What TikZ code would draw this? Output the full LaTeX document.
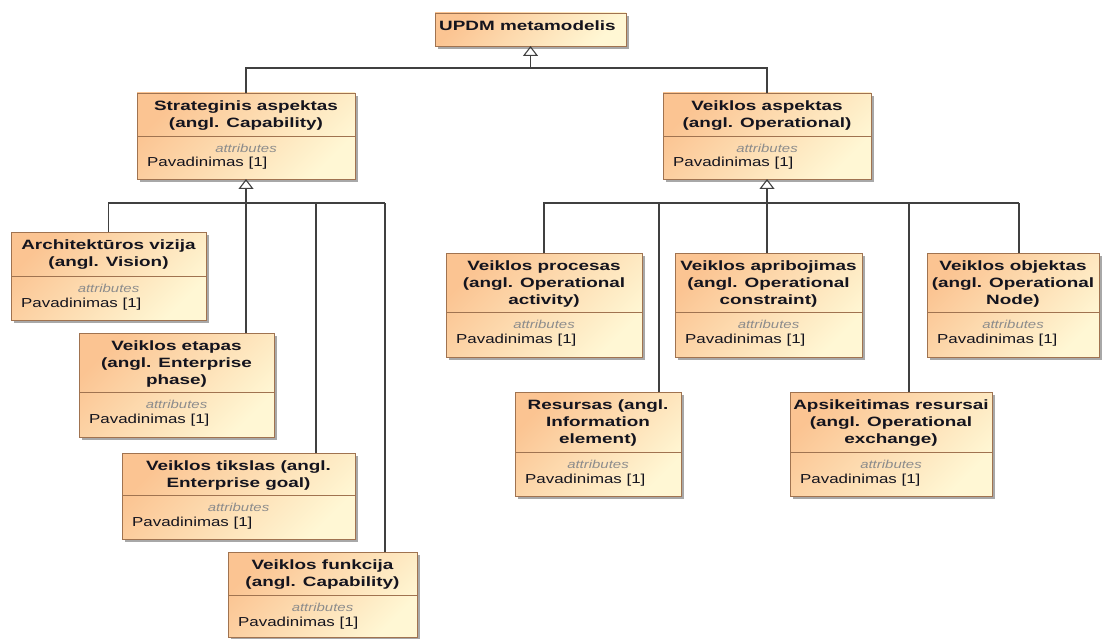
\documentclass[tikz,border=0pt]{standalone}
\usepackage{fontspec}
\setmainfont{Liberation Sans}
\newfontfamily\classtitlefont{Liberation Sans}[FakeStretch=1.4]
\newfontfamily\classbodyfont{Liberation Sans}[FakeStretch=1.3]
\usetikzlibrary{shadows,arrows.meta}

\definecolor{classorange}{RGB}{251,196,146}
\definecolor{classyellow}{RGB}{255,247,212}
\definecolor{classborder}{RGB}{160,115,80}
\definecolor{shadowgray}{RGB}{168,168,168}
\definecolor{connector}{RGB}{64,64,64}
\definecolor{attrgray}{RGB}{140,140,140}
\definecolor{classink}{RGB}{20,20,30}

\tikzset{
  classbox/.style={draw=classborder, line width=0.9pt, inner sep=0pt, outer sep=0pt,
    top color=classorange, bottom color=classyellow, shading angle=45,
    drop shadow={shadow xshift=3pt, shadow yshift=-3pt, fill=shadowgray, opacity=1}},
  classdivider/.style={draw=classborder, line width=0.9pt},
  classtitle/.style={inner sep=0pt, anchor=north, align=center, text=classink,
    font=\classtitlefont\bfseries\fontsize{13.5}{17}\selectfont},
  classattr/.style={inner sep=0pt, text=attrgray,
    font=\classbodyfont\itshape\fontsize{11.5}{13}\selectfont},
  classprop/.style={inner sep=0pt, anchor=base west, text=classink,
    font=\classbodyfont\fontsize{13}{16}\selectfont},
  genline/.style={draw=connector, line width=1.1pt},
  gen/.style={genline, -{Triangle[open, length=10pt, width=15pt]}}
}

% class box: name, left, top, right, bottom, divider, title
\newcommand{\umlclass}[7]{%
  \node[classbox, minimum width={#4-#2}, minimum height={#5-#3}] (#1) at ({(#2+#4)/2},{(#3+#5)/2}) {};
  \draw[classdivider] ({#2},{#6}) -- ({#4},{#6});
  \node[classtitle] (#1-title) at ({(#2+#4)/2},{#3+7.5}) {#7};
  \node[classattr] (#1-attr) at ({(#2+#4)/2},{#6+12}) {attributes};
  \node[classprop] (#1-prop) at ({#2+10},{#6+31}) {Pavadinimas [1]};
}

\begin{document}
\begin{tikzpicture}[x=1pt, y=-1pt]
\useasboundingbox[fill=white] (0,0) rectangle (1102,639);

% root
\node[classbox, minimum width=191, minimum height=33] (updm) at (530.5,29.5) {};
\node[classtitle, anchor=base west] (updm-title) at (439,31) {UPDM metamodelis};

% aspects
\umlclass{strat}{137}{93}{355}{179}{136}{Strateginis aspektas\\(angl. Capability)}
\umlclass{oper}{663}{93}{871}{179}{136}{Veiklos aspektas\\(angl. Operational)}

% capability branch
\umlclass{arch}{11}{232}{206}{320}{276}{Architektūros vizija\\(angl. Vision)}
\umlclass{etapas}{79}{333}{274}{437}{392}{Veiklos etapas\\(angl. Enterprise\\phase)}
\umlclass{tikslas}{122}{453}{355}{539}{495}{Veiklos tikslas (angl.\\Enterprise goal)}
\umlclass{funkcija}{228}{552}{417}{637}{595}{Veiklos funkcija\\(angl. Capability)}

% operational branch
\umlclass{procesas}{446}{253}{642}{357}{312}{Veiklos procesas\\(angl. Operational\\activity)}
\umlclass{apribojimas}{675}{253}{862}{357}{312}{Veiklos apribojimas\\(angl. Operational\\constraint)}
\umlclass{objektas}{927}{253}{1099}{357}{312}{Veiklos objektas\\(angl. Operational\\Node)}
\umlclass{resursas}{515}{392}{681}{496}{452}{Resursas (angl.\\Information\\element)}
\umlclass{apsikeitimas}{790}{392}{992}{496}{452}{Apsikeitimas resursai\\(angl. Operational\\exchange)}

% generalization to the root
\coordinate (jT) at (530.5,68);
\draw[genline] (strat.north) |- (jT);
\draw[genline] (oper.north) |- (jT);
\draw[gen] (jT) -- (updm.south);

% generalization tree of the capability aspect
\coordinate (jS) at (246,203);
\coordinate (dT) at (316,203);
\coordinate (dF) at (385,203);
\draw[gen] (jS) -- (strat.south);
\draw[genline] (arch.north) |- (dF);
\draw[genline] (jS) -- (jS |- etapas.north);
\draw[genline] (dT) -- (dT |- tikslas.north);
\draw[genline] (dF) -- (dF |- funkcija.north);

% generalization tree of the operational aspect
\coordinate (jO) at (767,203);
\coordinate (dR) at (659,203);
\coordinate (dX) at (909,203);
\coordinate (dN) at (1019,203);
\draw[gen] (jO) -- (oper.south);
\draw[genline] (procesas.north) |- (dN);
\draw[genline] (jO) -- (jO |- apribojimas.north);
\draw[genline] (dR) -- (dR |- resursas.north);
\draw[genline] (dX) -- (dX |- apsikeitimas.north);
\draw[genline] (dN) -- (dN |- objektas.north);
\end{tikzpicture}
\end{document}
